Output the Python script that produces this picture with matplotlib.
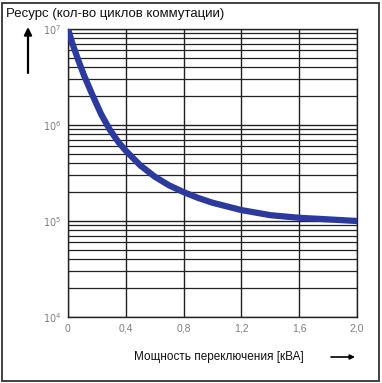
import matplotlib
matplotlib.use('Agg')
import matplotlib.pyplot as plt
from matplotlib.patches import Rectangle
from matplotlib.ticker import FixedLocator, LogLocator, NullFormatter

plt.rcParams['font.family'] = ['Liberation Sans', 'DejaVu Sans']

# curve
power_kva = [0, 0.03, 0.07, 0.11, 0.17, 0.23, 0.29, 0.35, 0.4, 0.5, 0.6, 0.7,
             0.8, 0.9, 1.0, 1.2, 1.4, 1.6, 1.8, 2.0]
cycles = [1e7, 7.08e6, 4.79e6, 3.31e6, 2.04e6, 1.29e6, 8.9e5, 6.6e5, 5.4e5,
          3.8e5, 2.9e5, 2.35e5, 2.0e5, 1.74e5, 1.55e5, 1.30e5, 1.15e5, 1.08e5,
          1.04e5, 1.0e5]

x_ticks = [0, 0.4, 0.8, 1.2, 1.6, 2.0]
x_tick_labels = ['0', '0,4', '0,8', '1,2', '1,6', '2,0']
y_ticks = [1e4, 1e5, 1e6, 1e7]
y_tick_labels = ['$10^4$', '$10^5$', '$10^6$', '$10^7$']

title = 'Ресурс (кол-во циклов коммутации)'
xlabel = 'Мощность переключения [кВА]'

fig = plt.figure(figsize=(3.82, 3.83), dpi=100)
ax = fig.add_axes([0.178, 0.1723, 0.7565, 0.752])

ax.plot(power_kva, cycles, color='#2b3a9c', lw=4.5, solid_capstyle='round',
        solid_joinstyle='round', zorder=5)

ax.set_yscale('log')
ax.set_xlim(0, 2.0)
ax.set_ylim(1e4, 1e7)

ax.xaxis.set_major_locator(FixedLocator(x_ticks))
ax.set_xticklabels(x_tick_labels)
ax.yaxis.set_major_locator(FixedLocator(y_ticks))
ax.set_yticklabels(y_tick_labels)
ax.yaxis.set_minor_locator(LogLocator(base=10, subs=range(2, 10)))
ax.yaxis.set_minor_formatter(NullFormatter())

ax.tick_params(which='both', length=0, labelcolor='#808080')
ax.tick_params(axis='x', pad=5, labelsize=7.5)
ax.tick_params(axis='y', pad=5, labelsize=7)

ax.grid(True, which='major', axis='both', color='#222222', lw=1.0)
ax.grid(True, which='minor', axis='y', color='#222222', lw=0.9)
for s in ax.spines.values():
    s.set_color('#222222')
    s.set_linewidth(1.0)

# title, axis label and arrows
fig.text(6 / 382, 1 - 14 / 383, title, fontsize=9.5, va='center', ha='left', color='#111111')
fig.text(304 / 382, 1 - 357 / 383, xlabel, fontsize=8.5, va='center', ha='right', color='#111111')

fig.add_artist(plt.Annotation('', xy=(28 / 382, 1 - 27 / 383), xytext=(28 / 382, 1 - 73 / 383),
                              xycoords='figure fraction', textcoords='figure fraction',
                              arrowprops=dict(arrowstyle='-|>', color='black', lw=1.6,
                                              mutation_scale=11, shrinkA=0, shrinkB=0)))
fig.add_artist(plt.Annotation('', xy=(355 / 382, 1 - 357 / 383), xytext=(331 / 382, 1 - 357 / 383),
                              xycoords='figure fraction', textcoords='figure fraction',
                              arrowprops=dict(arrowstyle='-|>', color='black', lw=1.2,
                                              mutation_scale=7, shrinkA=0, shrinkB=0)))

# outer frame
fig.add_artist(Rectangle((2 / 382, 2 / 383), 377 / 382, 378 / 383, transform=fig.transFigure,
                         fill=False, edgecolor='#333333', lw=1.3))

fig.savefig('out.png', dpi=100)
